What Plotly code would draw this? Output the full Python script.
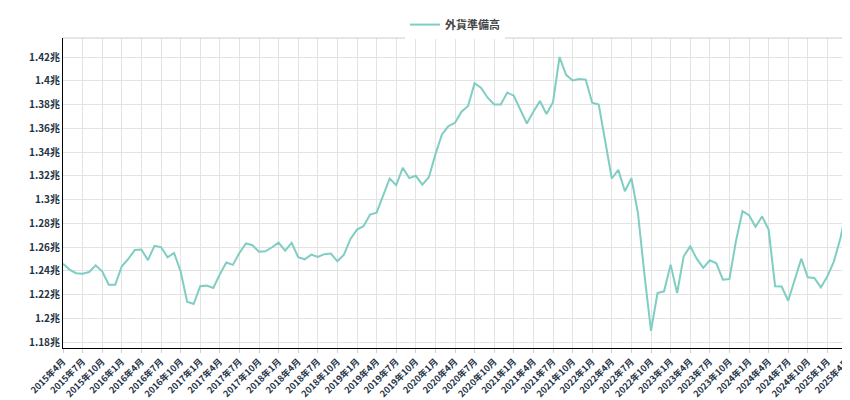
import plotly.graph_objects as go

# monthly reserves, 2015-04 .. 2025-04 (trillion)
months = [f"{2015 + (3 + i) // 12}年{(3 + i) % 12 + 1}月" for i in range(121)]
reserves = [
    1.246, 1.241, 1.238, 1.2376, 1.239, 1.2446, 1.2396, 1.2283, 1.2283,
    1.2438, 1.250, 1.2576, 1.258, 1.249, 1.261, 1.260, 1.2514, 1.255,
    1.2396, 1.214, 1.212, 1.227, 1.2275, 1.2255, 1.237, 1.247, 1.245,
    1.255, 1.263, 1.2615, 1.256, 1.2564, 1.2598, 1.2637, 1.257, 1.2635,
    1.2514, 1.2497, 1.2536, 1.2517, 1.254, 1.2545, 1.248, 1.2536, 1.2668,
    1.2747, 1.2775, 1.2873, 1.289, 1.3034, 1.3177, 1.312, 1.3267, 1.318,
    1.320, 1.3126, 1.3188, 1.338, 1.3548, 1.3618, 1.3646, 1.374, 1.3787,
    1.398, 1.394, 1.3857, 1.380, 1.380, 1.390, 1.3874, 1.376, 1.364,
    1.374, 1.383, 1.372, 1.382, 1.420, 1.405, 1.4003, 1.4015, 1.401,
    1.3815, 1.380, 1.349, 1.3177, 1.325, 1.307, 1.318, 1.2887, 1.2367,
    1.1895, 1.2213, 1.2227, 1.2452, 1.2213, 1.2522, 1.2606, 1.2502, 1.2424,
    1.2488, 1.2463, 1.2325, 1.233, 1.2649, 1.2902, 1.2868, 1.277, 1.2857,
    1.2747, 1.227, 1.2267, 1.2148, 1.2325, 1.2502, 1.2345, 1.234, 1.226,
    1.2353, 1.248, 1.2677, 1.2938,
]
ytick_vals = [1.18, 1.20, 1.22, 1.24, 1.26, 1.28, 1.30, 1.32, 1.34, 1.36, 1.38, 1.40, 1.42]
ytick_text = ["1.18兆", "1.2兆", "1.22兆", "1.24兆", "1.26兆", "1.28兆", "1.3兆",
              "1.32兆", "1.34兆", "1.36兆", "1.38兆", "1.4兆", "1.42兆"]

fig = go.Figure()
fig.add_trace(go.Scatter(x=months, y=reserves, mode="lines", name="外貨準備高",
                         line=dict(color="#7fcdc3", width=2)))

fig.update_layout(
    width=850, height=400,
    margin=dict(l=55, r=11, t=30, b=60, autoexpand=False),
    paper_bgcolor="white", plot_bgcolor="white",
    font=dict(family="Noto Sans CJK JP", size=10, color="#2c3e50"),
    showlegend=True,
    legend=dict(orientation="h", x=0.5, xanchor="center", y=1.09, yanchor="top",
                font=dict(size=11, color="#444", weight="bold")),
)
fig.update_xaxes(type="category", tickvals=months[::3], tickangle=-45, automargin=False,
                 showgrid=True, gridcolor="#e3e3e3", showline=True, linecolor="black",
                 ticks="outside", tickcolor="#c8d0e0", ticklen=4,
                 tickfont=dict(size=9, color="#1f3447", weight="bold"), range=[0, 120])
fig.update_yaxes(range=[1.175, 1.436], tickvals=ytick_vals, ticktext=ytick_text,
                 automargin=False,
                 showgrid=True, gridcolor="#e3e3e3", showline=True, linecolor="black",
                 zeroline=False, tickfont=dict(size=10, color="#1f3447", weight="bold"))
fig.add_shape(type="line", xref="paper", yref="paper", x0=0, x1=1, y0=1, y1=1,
              line=dict(color="#cccccc", width=1))
fig.add_shape(type="line", xref="paper", yref="paper", x0=1, x1=1, y0=0, y1=1,
              line=dict(color="#cccccc", width=1))

fig.write_html("out.html")
